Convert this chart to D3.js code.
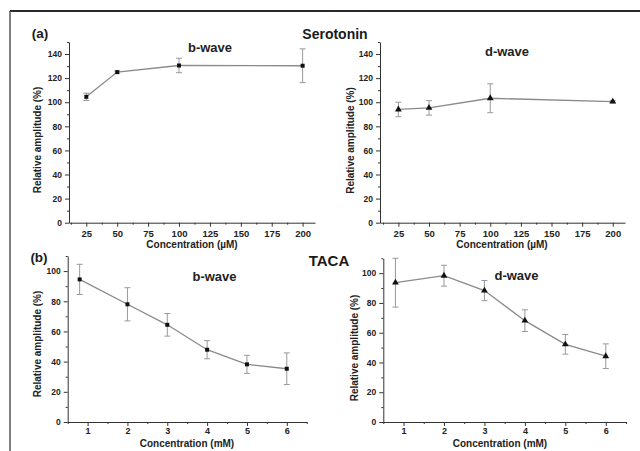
<!DOCTYPE html>
<html>
<head>
<meta charset="utf-8">
<script src="https://cdnjs.cloudflare.com/ajax/libs/d3/7.8.5/d3.min.js"></script>
<style>
  body { margin: 0; background: #fff; }
  svg { display: block; font-family: "Liberation Sans", Arial, sans-serif; font-weight: bold; }
</style>
</head>
<body>
<div class="chart"></div>
<script>
// values
var serotoninConc = [25, 50, 100, 200];
var serotoninB = [104.5, 125, 130.5, 130.3];
var serotoninBErr = [3, 1, 6, 14];
var serotoninD = [94, 95.3, 103.3, 100.5];
var serotoninDErr = [6, 6, 12, 1];

var tacaConc = [0.8, 2, 3, 4, 5, 6];
var tacaB = [94.5, 78, 64.4, 47.9, 38.2, 35.3];
var tacaBErr = [10, 11, 7.5, 6, 6, 10.5];
var tacaD = [93.7, 98.3, 88.3, 68.1, 52.2, 44.2];
var tacaDErr = [16.5, 7, 6.8, 7.3, 6.6, 8.3];

var serotoninTicks = [25, 50, 75, 100, 125, 150, 175, 200];
var tacaTicks = [1, 2, 3, 4, 5, 6];
var yTicksTop = [0, 20, 40, 60, 80, 100, 120, 140];
var yTicksBottom = [0, 20, 40, 60, 80, 100];

var svg = d3.select('.chart')
  .append('svg')
  .attr('width', 640)
  .attr('height', 451);

// frame (only top and left edges visible)
svg.append('line').attr('x1', 10).attr('x2', 640).attr('y1', 11).attr('y2', 11)
  .style('stroke', '#2a2a2a').style('stroke-width', 2);
svg.append('line').attr('x1', 10).attr('x2', 10).attr('y1', 11).attr('y2', 451)
  .style('stroke', '#555').style('stroke-width', 1.5);

function drawPanel(p) {
  var xScale = d3.scaleLinear().domain(p.xDomain).range([p.left, p.right]);
  var yScale = d3.scaleLinear().domain(p.yDomain).range([p.bottom, p.top]);

  var g = svg.append('g');

  // minor ticks
  g.append('g')
    .attr('transform', `translate(0, ${p.bottom})`)
    .call(d3.axisBottom(xScale).tickValues(p.xMinor).tickSize(2).tickFormat(''))
    .call(a => a.select('.domain').remove());
  g.append('g')
    .attr('transform', `translate(${p.left}, 0)`)
    .call(d3.axisLeft(yScale).tickValues(p.yMinor).tickSize(2).tickFormat(''))
    .call(a => a.select('.domain').remove());

  var xAxis = g.append('g')
    .attr('transform', `translate(0, ${p.bottom})`)
    .call(d3.axisBottom(xScale).tickValues(p.xTicks).tickFormat(d3.format('d'))
      .tickSize(4).tickPadding(p.xPad).tickSizeOuter(0));
  xAxis.selectAll('text').style('font-size', p.xFont + 'px').style('font-weight', 'bold');

  var yAxis = g.append('g')
    .attr('transform', `translate(${p.left}, 0)`)
    .call(d3.axisLeft(yScale).tickValues(p.yTicks).tickSize(4).tickPadding(3).tickSizeOuter(0));
  yAxis.selectAll('text').style('font-size', '8.5px').style('font-weight', 'bold');

  g.selectAll('.domain, .tick line').style('stroke', '#333').style('stroke-width', 1);
  g.selectAll('.tick text').style('fill', '#222').style('font-family', '"Liberation Sans", Arial, sans-serif');

  // axis titles
  g.append('text')
    .attr('x', p.xTitleX).attr('y', p.xTitleY)
    .style('text-anchor', 'middle').style('font-size', '10px').style('fill', '#222')
    .text(p.xTitle);
  g.append('text')
    .attr('transform', `translate(${p.yTitleX}, ${p.yTitleY}) rotate(-90)`)
    .style('text-anchor', 'middle').style('font-size', '10px').style('fill', '#222')
    .text('Relative amplitude (%)');

  g.append('text')
    .attr('x', p.labelX).attr('y', p.labelY)
    .style('text-anchor', 'middle').style('font-size', '13px').style('fill', '#222')
    .text(p.label);

  var pts = p.x.map((v, i) => ({ x: v, y: p.y[i], e: p.err[i] }));

  var line = d3.line().x(d => xScale(d.x)).y(d => yScale(d.y));
  g.append('path')
    .attr('d', line(pts))
    .style('fill', 'none').style('stroke', '#8a8a8a').style('stroke-width', 1.3);

  var eb = g.selectAll('.err').data(pts).enter().append('g').attr('class', 'err')
    .style('stroke', '#999').style('stroke-width', 1);
  var hi = d => yScale(Math.min(d.y + d.e, p.yDomain[1]));
  eb.append('line')
    .attr('x1', d => xScale(d.x)).attr('x2', d => xScale(d.x))
    .attr('y1', hi).attr('y2', d => yScale(d.y - d.e));
  eb.append('line')
    .attr('x1', d => xScale(d.x) - 3).attr('x2', d => xScale(d.x) + 3)
    .attr('y1', hi).attr('y2', hi);
  eb.append('line')
    .attr('x1', d => xScale(d.x) - 3).attr('x2', d => xScale(d.x) + 3)
    .attr('y1', d => yScale(d.y - d.e)).attr('y2', d => yScale(d.y - d.e));

  g.selectAll('.mark').data(pts).enter().append('path')
    .attr('class', 'mark')
    .attr('transform', d => `translate(${xScale(d.x)}, ${yScale(d.y)})`)
    .attr('d', d3.symbol().type(p.symbol).size(p.symbol === d3.symbolSquare ? 16 : 20))
    .style('fill', '#111');
}

var topCfg = { top: 42, bottom: 222.7, yDomain: [0, 150], yTicks: yTicksTop,
  yMinor: [10, 30, 50, 70, 90, 110, 130, 150], xTicks: serotoninTicks,
  xMinor: [12.5, 37.5, 62.5, 87.5, 112.5, 137.5, 162.5, 187.5], xFont: 9.5, xPad: 4,
  xTitle: 'Concentration (\u00b5M)', xTitleY: 248, yTitleY: 140 };
var botCfg = { top: 256, bottom: 422, yDomain: [0, 110], yTicks: yTicksBottom,
  yMinor: [10, 30, 50, 70, 90, 110], xTicks: tacaTicks,
  xMinor: [0.5, 1.5, 2.5, 3.5, 4.5, 5.5, 6.5], xFont: 9, xPad: 2,
  xTitle: 'Concentration (mM)', xTitleY: 446.5 };

drawPanel(Object.assign({}, topCfg, { left: 69, right: 315, xDomain: [11, 210],
  x: serotoninConc, y: serotoninB, err: serotoninBErr, symbol: d3.symbolSquare,
  label: 'b-wave', labelX: 210, labelY: 52, xTitleX: 192, yTitleX: 40.5 }));
drawPanel(Object.assign({}, topCfg, { left: 380, right: 625, xDomain: [10, 210],
  x: serotoninConc, y: serotoninD, err: serotoninDErr, symbol: d3.symbolTriangle,
  label: 'd-wave', labelX: 507, labelY: 56, xTitleX: 502, yTitleX: 354, yTitleY: 140.5 }));
drawPanel(Object.assign({}, botCfg, { left: 67.7, right: 306.7, xDomain: [0.5, 6.5],
  x: tacaConc, y: tacaB, err: tacaBErr, symbol: d3.symbolSquare,
  label: 'b-wave', labelX: 214.5, labelY: 281, xTitleX: 187, yTitleX: 40.5, yTitleY: 344 }));
drawPanel(Object.assign({}, botCfg, { left: 383.3, right: 626, xDomain: [0.5, 6.5],
  top: 258.3,
  x: tacaConc, y: tacaD, err: tacaDErr, symbol: d3.symbolTriangle,
  label: 'd-wave', labelX: 516.5, labelY: 280, xTitleX: 500, yTitleX: 358, yTitleY: 348 }));

// panel letters and group titles
var titles = [
  { t: '(a)', x: 40, y: 38, s: 13.5 },
  { t: '(b)', x: 39, y: 262, s: 13.5 },
  { t: 'Serotonin', x: 335, y: 39, s: 14 },
  { t: 'TACA', x: 329, y: 266, s: 15 }
];
svg.selectAll('.title').data(titles).enter().append('text')
  .attr('class', 'title')
  .attr('x', d => d.x).attr('y', d => d.y)
  .style('text-anchor', 'middle').style('font-size', d => d.s + 'px').style('fill', '#1a1a1a')
  .text(d => d.t);
</script>
</body>
</html>
